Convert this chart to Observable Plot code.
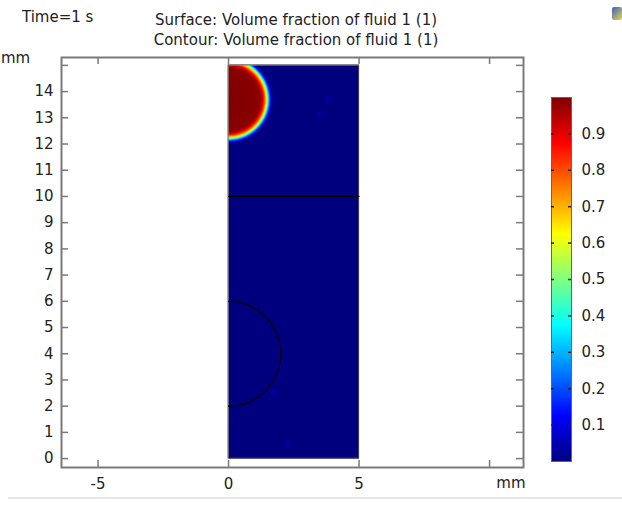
<!DOCTYPE html>
<html>
<head>
<meta charset="utf-8">
<script src="https://cdn.jsdelivr.net/npm/d3@7"></script>
<script src="https://cdn.jsdelivr.net/npm/@observablehq/plot@0.6"></script>
<style>
  body { margin: 0; background: white; }
  #wrap { position: relative; width: 622px; height: 508px; background: white; overflow: hidden;
          font-family: "DejaVu Sans", sans-serif; color: #222; font-size: 15px; }
  .abs { position: absolute; }
</style>
</head>
<body>
<div id="wrap">
  <div class="abs" style="left:22px;top:8px;line-height:18px;">Time=1 s</div>
  <div class="abs" id="titles" style="left:0;width:592px;top:10px;text-align:center;line-height:20px;"></div>
  <div class="abs" id="main" style="left:0;top:50px;"></div>
  <div class="abs" style="left:1px;top:50px;line-height:16px;white-space:nowrap;z-index:2;">mm</div>
  <div class="abs" id="cbar" style="left:541px;top:87px;"></div>
  <div class="abs" style="left:8px;top:497px;width:614px;height:2px;background:#e6e6e6;"></div>
  <div class="abs" style="left:612px;top:7px;width:10px;height:13px;background:linear-gradient(135deg,#3a5fd0,#e8d840);border-radius:2px;"></div>
</div>
<script>
// ---- text ----
const titleLines = ["Surface: Volume fraction of fluid 1 (1)", "Contour: Volume fraction of fluid 1 (1)"];
const unitLabel = "mm";

// ---- axes ----
const xDomain = [-6.4, 11.3];
const yDomain = [-0.34, 15.3];
const xTicks = [-5, 0, 5, 10];
const xTickLabels = [-5, 0, 5];
const yTicks = [0, 1, 2, 3, 4, 5, 6, 7, 8, 9, 10, 11, 12, 13, 14, 15];
const yTickLabels = [0, 1, 2, 3, 4, 5, 6, 7, 8, 9, 10, 11, 12, 13, 14];

// ---- geometry (mm) ----
const geomX = [0, 5];
const geomY = [0, 15];

// ---- surface: volume fraction of fluid 1 ----
const dropCenter = [0, 13.7];
const dropProfileR = [0, 1.2, 1.3, 1.38, 1.44, 1.49, 1.53, 1.57, 1.62, 1.7];
const dropProfileV = [1.0, 0.99, 0.92, 0.8, 0.65, 0.5, 0.35, 0.2, 0.08, 0];
const speckX = [3.8, 3.5, 1.72, 2.26];
const speckY = [13.74, 13.17, 2.52, 0.57];
const speckProfileR = [0, 0.06, 0.14];
const speckProfileV = [0.07, 0.04, 0];

// ---- contour lines ----
const contourLineX = [0, 5];
const contourLineY = [10, 10];
const contourArcCenter = [0, 4];
const contourArcRadius = 2;

// ---- colour bar ----
const cbTicks = [0.1, 0.2, 0.3, 0.4, 0.5, 0.6, 0.7, 0.8, 0.9];
const jetStops = [0, 0.125, 0.375, 0.625, 0.875, 1];
const jetColors = ["#00007f", "#0000ff", "#00ffff", "#ffff00", "#ff0000", "#7f0000"];

document.getElementById("titles").innerHTML = titleLines.join("<br>");

const jetScale = d3.scaleLinear().domain(jetStops).range(jetColors).interpolate(d3.interpolateRgb).clamp(true);
const jet = t => jetScale(t);
const colorOpts = {type: "linear", domain: [0, 1], interpolate: jet};

const dropF = d3.scaleLinear().domain(dropProfileR).range(dropProfileV).clamp(true);
const speckF = d3.scaleLinear().domain(speckProfileR).range(speckProfileV).clamp(true);
function fraction(x, y) {
  let v = dropF(Math.hypot(x - dropCenter[0], y - dropCenter[1]));
  for (let i = 0; i < speckX.length; ++i) {
    v = Math.max(v, speckF(Math.hypot(x - speckX[i], y - speckY[i])));
  }
  return v;
}

const lineData = contourLineX.map((x, i) => ({x, y: contourLineY[i]}));
const arcData = d3.range(-90, 90.01, 2).map(a => ({
  x: contourArcCenter[0] + contourArcRadius * Math.cos(a * Math.PI / 180),
  y: contourArcCenter[1] + contourArcRadius * Math.sin(a * Math.PI / 180)
}));

const W = 622, H = 458, mT = 7, mB = 41, mL = 61, mR = 99;
const plotH = H - mT - mB, plotW = W - mL - mR, tk = 7;
const axisGray = "#7a7a7a";

const main = Plot.plot({
  width: W, height: H,
  marginTop: mT, marginBottom: mB, marginLeft: mL, marginRight: mR,
  style: {fontFamily: "DejaVu Sans", fontSize: "15px", color: "#222", background: "white"},
  x: {domain: xDomain},
  y: {domain: yDomain},
  color: colorOpts,
  marks: [
    Plot.raster({fill: fraction, x1: geomX[0], x2: geomX[1], y1: geomY[0], y2: geomY[1]}),
    Plot.rect([{}], {x1: geomX[0], x2: geomX[1], y1: geomY[0], y2: geomY[1], fill: "none", stroke: "#4a4a4a", strokeWidth: 1}),
    Plot.line(lineData, {x: "x", y: "y", stroke: "black", strokeWidth: 1.2}),
    Plot.line(arcData, {x: "x", y: "y", stroke: "black", strokeWidth: 1.2}),
    Plot.frame({stroke: axisGray, strokeWidth: 2}),
    Plot.tickX(xTicks, {x: d => d, insetTop: plotH - tk, stroke: axisGray, strokeWidth: 1.5}),
    Plot.tickX(xTicks, {x: d => d, insetBottom: plotH - tk, stroke: axisGray, strokeWidth: 1.5}),
    Plot.tickY(yTicks, {y: d => d, insetRight: plotW - tk, stroke: axisGray, strokeWidth: 1.5}),
    Plot.tickY(yTicks, {y: d => d, insetLeft: plotW - tk, stroke: axisGray, strokeWidth: 1.5}),
    Plot.axisX(xTickLabels, {anchor: "bottom", tickSize: 0, tickPadding: 11, label: null, tickFormat: d => String(d).replace("−", "-")}),
    Plot.axisY(yTickLabels, {anchor: "left", tickSize: 0, tickPadding: 8, label: null}),
    Plot.text([unitLabel], {frameAnchor: "bottom-right", dx: 2, dy: 20, textAnchor: "end"})
  ]
});
document.getElementById("main").appendChild(main);

const cbar = Plot.plot({
  width: 81, height: 384,
  marginTop: 10, marginBottom: 10, marginLeft: 10, marginRight: 51,
  style: {fontFamily: "DejaVu Sans", fontSize: "15px", color: "#222", background: "transparent"},
  x: {domain: [0, 1], axis: null},
  y: {domain: [0, 1], axis: null},
  color: colorOpts,
  marks: [
    Plot.raster({fill: (x, y) => y, x1: 0, x2: 1, y1: 0, y2: 1}),
    Plot.frame({stroke: "#666", strokeWidth: 1}),
    Plot.tickY(cbTicks, {y: d => d, insetRight: 17, stroke: "#222", strokeWidth: 1.5}),
    Plot.tickY(cbTicks, {y: d => d, insetLeft: 17, stroke: "#222", strokeWidth: 1.5}),
    Plot.axisY(cbTicks, {anchor: "right", tickSize: 0, tickPadding: 10, label: null, tickFormat: d3.format(".1f")})
  ]
});
document.getElementById("cbar").appendChild(cbar);
</script>
</body>
</html>
